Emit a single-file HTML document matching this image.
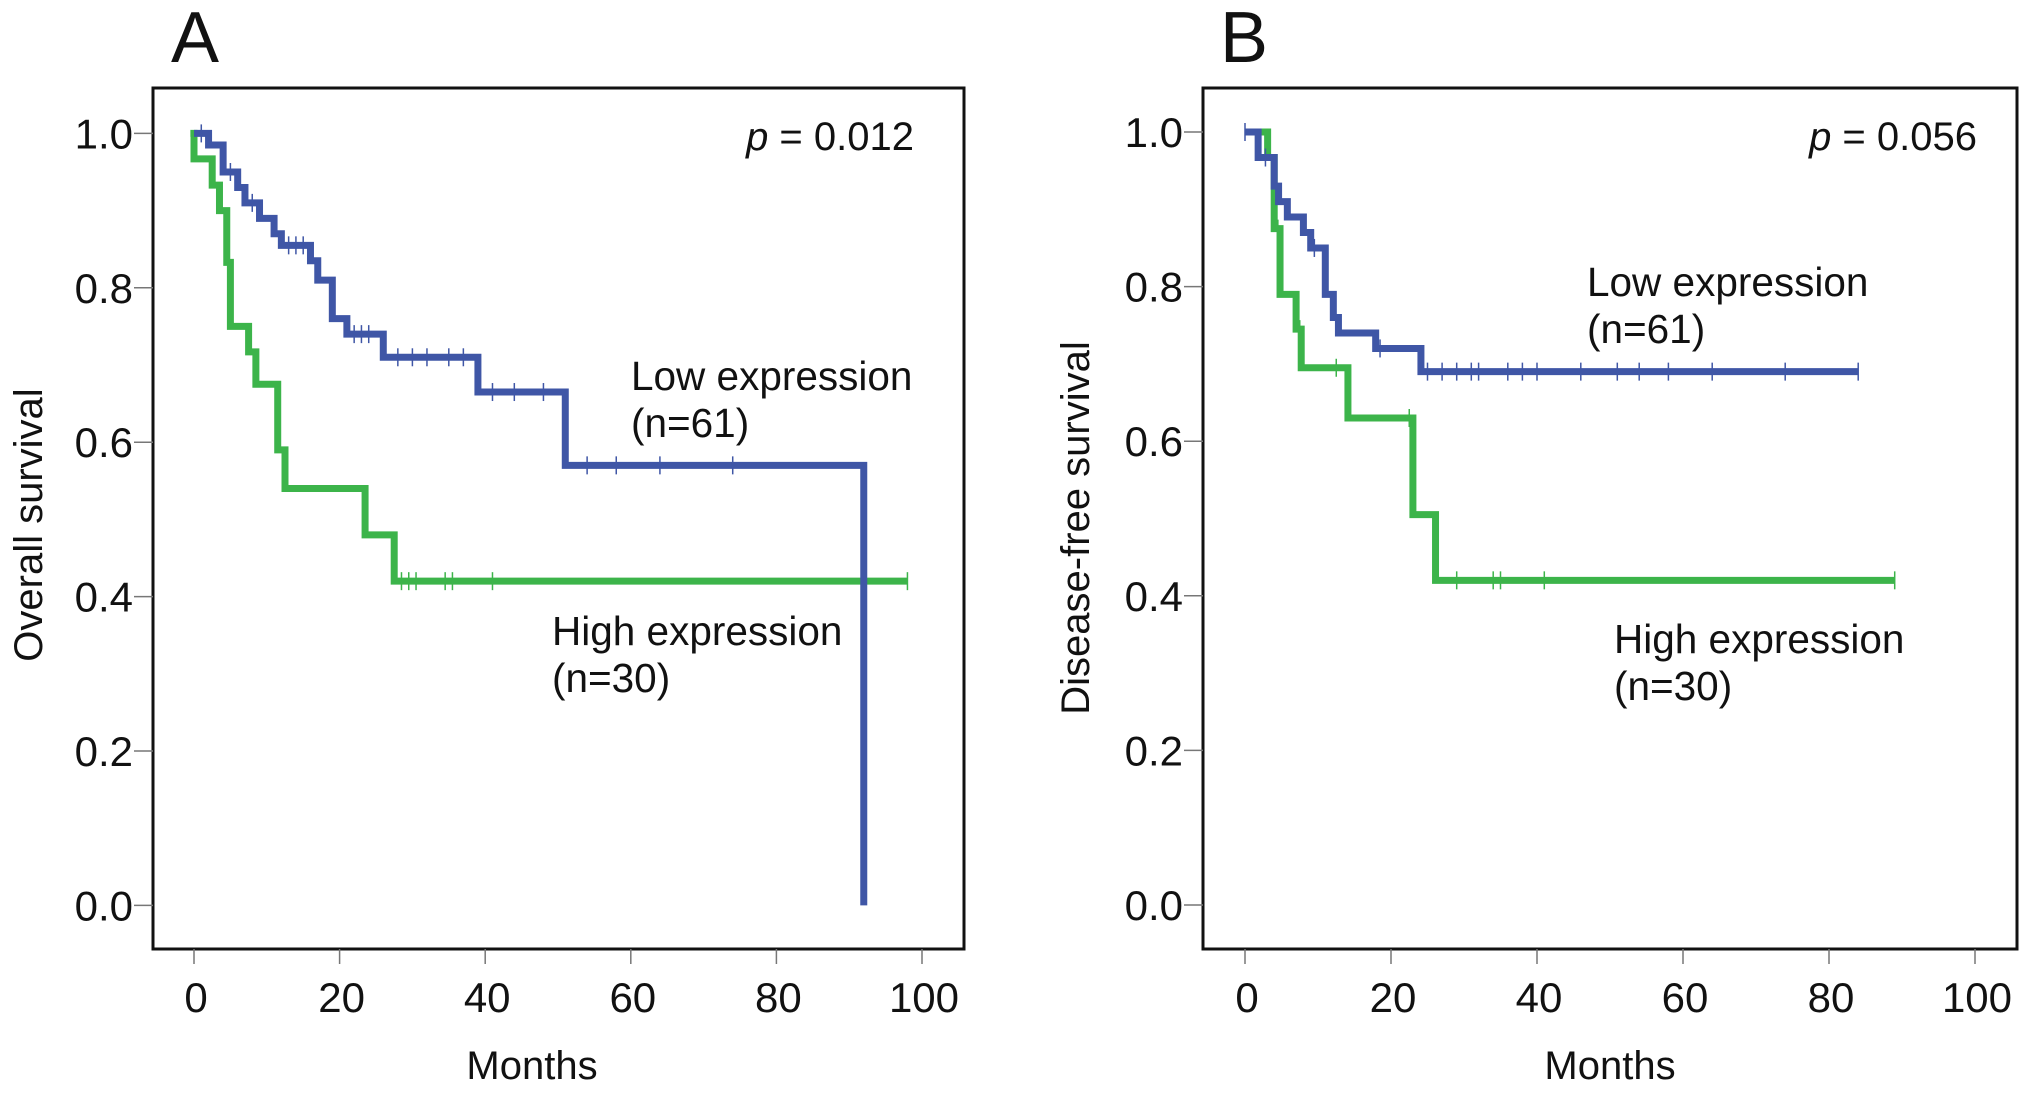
<!DOCTYPE html>
<html><head><meta charset="utf-8"><style>
html,body{margin:0;padding:0;background:#fff}
svg{display:block}
text{font-family:"Liberation Sans",Arial,sans-serif;fill:#111}
</style></head><body>
<svg id="fig" width="2031" height="1094" viewBox="0 0 2031 1094" xmlns="http://www.w3.org/2000/svg"></svg>
<script>
// Panel A data (months, survival)
const aLowT = [0,2,4,6,7,9,11,12,16,17,19,21,26,39,51,92];
const aLowS = [1,0.985,0.95,0.93,0.91,0.89,0.87,0.855,0.835,0.81,0.76,0.74,0.71,0.665,0.57,0];
const aLowCens = [1,5,8,13,14,15,22,23,24,28,30,32,35,37,41,44,48,54,58,64,74];
const aHighT = [-0.5,0,2.5,3.5,4.5,5,7.5,8.5,11.5,12.5,23.5,27.5];
const aHighS = [1,0.967,0.933,0.9,0.833,0.75,0.717,0.675,0.59,0.54,0.48,0.42];
const aHighCens = [28.5,29.5,30.5,34.5,35.5,41,98];
const aEnd = {low:92, high:98};
// Panel B data
const bLowT = [0,1.8,4,4.6,5.8,8,9,11,12.1,12.8,17.9,24.1];
const bLowS = [1,0.967,0.93,0.91,0.89,0.87,0.85,0.79,0.76,0.74,0.72,0.69];
const bLowCens = [0,2.8,9.5,18.5,25,27,29,31,32,36,38,40,46,51,54,58,64,74,84];
const bHighT = [0,3.1,4,4.8,7,7.7,14.1,23,26.1];
const bHighS = [1,0.967,0.875,0.79,0.745,0.695,0.63,0.505,0.42];
const bHighCens = [4.5,7.5,12.5,22.5,29,34,35,41,89];
const bEnd = {low:84, high:89};
const xTicks = [0,20,40,60,80,100];
const yTicks = [0,0.2,0.4,0.6,0.8,1.0];
const yTickLabels = ["0.0","0.2","0.4","0.6","0.8","1.0"];

const NS="http://www.w3.org/2000/svg";
const svg=document.getElementById('fig');
function mk(tag,attrs,parent){const e=document.createElementNS(NS,tag);for(const k in attrs)e.setAttribute(k,attrs[k]);(parent||svg).appendChild(e);return e;}

function panel(cfg){
  const g=mk('g',{});
  
  
  const X=t=>cfg.x0+(t/100)*(cfg.x100-cfg.x0);
  const Y=s=>cfg.y0-s*(cfg.y0-cfg.y1);
  const box=mk('rect',{x:cfg.L,y:cfg.T,width:cfg.R-cfg.L,height:cfg.B-cfg.T,fill:'none',stroke:'#111','stroke-width':3},g);
  
  
  yTicks.forEach((v,i)=>{
    const l=mk('line',{x1:cfg.L-19,x2:cfg.L,y1:Y(v),y2:Y(v),stroke:'#777','stroke-width':1.5},g);
    
    
    const t=mk('text',{x:cfg.L-20,y:Y(v)+15,'text-anchor':'end','font-size':42},g);
    t.textContent=yTickLabels[i];
    
    
  });
  xTicks.forEach(v=>{
    const l=mk('line',{x1:X(v),x2:X(v),y1:cfg.B,y2:cfg.B+15,stroke:'#777','stroke-width':1.5},g);
    
    
    const t=mk('text',{x:X(v)+2,y:1012,'text-anchor':'middle','font-size':42},g);
    t.textContent=String(v);
    
    
  });
  function curve(T,S,end,cens,color,nm){
    let d='M'+X(T[0])+','+Y(S[0]);
    for(let i=1;i<T.length;i++){d+=' H'+X(T[i])+' V'+Y(S[i]);}
    d+=' H'+X(end);
    const p=mk('path',{d:d,fill:'none',stroke:color,'stroke-width':7,'stroke-linejoin':'miter'},g);
    
    
    cens.forEach(c=>{
      let s=S[0];for(let i=0;i<T.length;i++){if(T[i]<=c)s=S[i];}
      const m=mk('line',{x1:X(c),x2:X(c),y1:Y(s)-9,y2:Y(s)+9,stroke:color,'stroke-width':1.5},g);
      
      
    });
  }
  curve(cfg.hT,cfg.hS,cfg.end.high,cfg.hC,'#3cb44a','high-expression-curve');
  curve(cfg.lT,cfg.lS,cfg.end.low,cfg.lC,'#3f56a6','low-expression-curve');
  const txt=(s,x,y,size,nm,extra)=>{const t=mk('text',Object.assign({x:x,y:y,'font-size':size},extra||{}),g);t.textContent=s;return t;};
  txt(cfg.letter,cfg.letterX,62,72,'panel-letter');
  const p=mk('text',{x:cfg.pX,y:150,'text-anchor':'end','font-size':40},g);
  
  
  p.innerHTML='<tspan font-style="italic">p</tspan> = '+cfg.p;
  txt('Low expression',cfg.lowX,cfg.lowY,40.5,'low-expression-label');
  txt('(n=61)',cfg.lowX,cfg.lowY+47,40.5,'low-n-label');
  txt('High expression',cfg.highX,cfg.highY,40.5,'high-expression-label');
  txt('(n=30)',cfg.highX,cfg.highY+47,40.5,'high-n-label');
  txt('Months',cfg.monthsX,1079,40,'x-axis-title',{'text-anchor':'middle'});
  txt(cfg.ytitle,0,0,40,'y-axis-title',{'text-anchor':'middle',transform:'translate('+cfg.ytX+','+cfg.ytY+') rotate(-90)'});
}
panel({name:'panel-a',L:153,T:88,R:964,B:949,x0:194,x100:922,y0:905.4,y1:133.4,
  lT:aLowT,lS:aLowS,lC:aLowCens,hT:aHighT,hS:aHighS,hC:aHighCens,end:aEnd,
  letter:'A',letterX:171,p:'0.012',pX:914,lowX:631,lowY:390,highX:552,highY:645,monthsX:532,
  ytitle:'Overall survival',ytX:42,ytY:525});
panel({name:'panel-b',L:1203,T:88,R:2017,B:949,x0:1245,x100:1975,y0:905,y1:132,
  lT:bLowT,lS:bLowS,lC:bLowCens,hT:bHighT,hS:bHighS,hC:bHighCens,end:bEnd,
  letter:'B',letterX:1220,p:'0.056',pX:1977,lowX:1587,lowY:296,highX:1614,highY:653,monthsX:1610,
  ytitle:'Disease-free survival',ytX:1089,ytY:528});
</script>
</body></html>
